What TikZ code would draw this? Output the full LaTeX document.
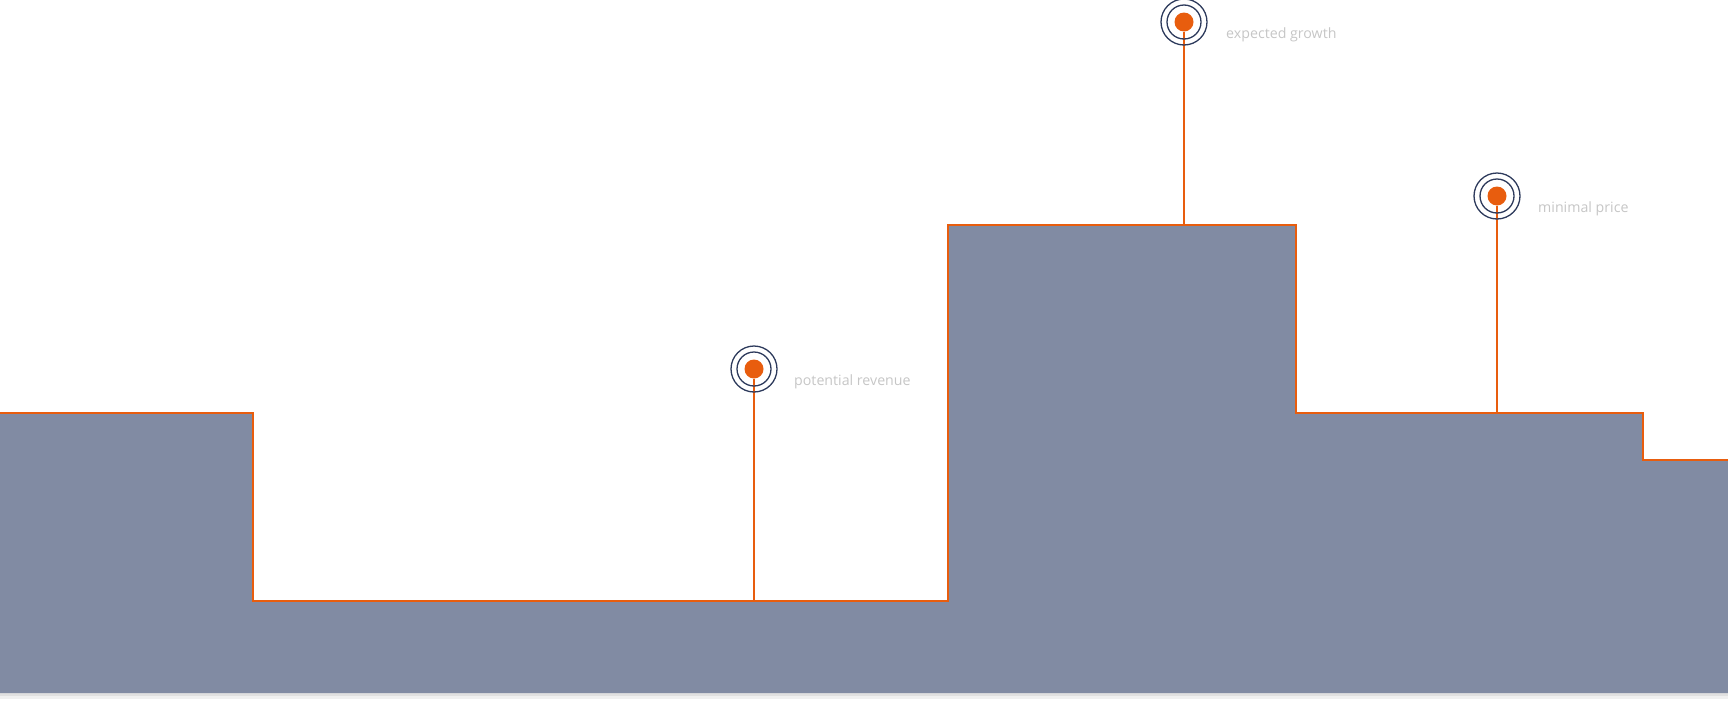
\documentclass[tikz,border=0pt]{standalone}
\usepackage{fontspec}
\setmainfont{Open Sans}
\usepackage{xcolor}
\usepackage{tikz}
\usetikzlibrary{positioning}

\definecolor{stepfill}{HTML}{818BA3}
\definecolor{stepline}{HTML}{E85D0E}
\definecolor{ringblue}{HTML}{2D3A5C}
\definecolor{labelgray}{HTML}{C6C6C6}

\begin{document}
\begin{tikzpicture}[
            x=1pt, y=-1pt,
            dot/.style={circle, fill=stepline, minimum size=19pt, inner sep=0pt},
            ring/.style={draw=ringblue, line width=1.3pt},
            pin/.style={draw=stepline, line width=2pt},
            tag/.style={anchor=base west, text=labelgray, font=\fontsize{14.2pt}{16pt}\selectfont, inner sep=0pt},
        ]
        \useasboundingbox (0,0) rectangle (1728,702);
        % shadow under the steps
        \fill[black!6] (0,693) rectangle (1728,699);
        \fill[black!12] (0,693) rectangle (1728,696);
        % steps
        \fill[stepfill] (0,413) -- (253,413) -- (253,601) -- (948,601) -- (948,225)
            -- (1296,225) -- (1296,413) -- (1643,413) -- (1643,460) -- (1728,460)
            -- (1728,693) -- (0,693) -- cycle;
        \draw[pin, line join=miter] (0,413) -- (253,413) -- (253,601) -- (948,601) -- (948,225)
            -- (1296,225) -- (1296,413) -- (1643,413) -- (1643,460) -- (1728,460);
        % markers
        \coordinate (revenuebase) at (754,601);
        \coordinate (growthbase) at (1184,225);
        \coordinate (pricebase) at (1497,413);
        \node (revenue) at (754,369) [dot] {};
        \node (growth) at (1184,22) [dot] {};
        \node (price) at (1497,196) [dot] {};
        \draw[pin] (revenue.south) -- (revenuebase);
        \draw[pin] (growth.south) -- (growthbase);
        \draw[pin] (price.south) -- (pricebase);
        \draw[ring] (revenue) circle (17pt) circle (23pt);
        \draw[ring] (growth) circle (17pt) circle (23pt);
        \draw[ring] (price) circle (17pt) circle (23pt);
        \node (revenuetag) at (794,385) [tag] {potential revenue};
        \node (growthtag) at (1226,38) [tag] {expected growth};
        \node (pricetag) at (1538,212) [tag] {minimal price};
        \end{tikzpicture}
\end{document}
